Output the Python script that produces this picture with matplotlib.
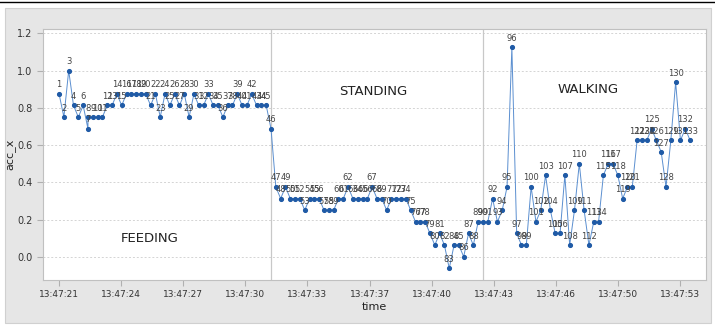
import matplotlib
matplotlib.use("Agg")
import matplotlib.pyplot as plt
from matplotlib.patches import Rectangle
import numpy as np

# acc_x readings, samples 1..133
acc_x = [
    0.875, 0.75, 1.0, 0.8125, 0.75, 0.8125, 0.6875, 0.75, 0.75, 0.75,
    0.75, 0.8125, 0.8125, 0.875, 0.8125, 0.875, 0.875, 0.875, 0.875, 0.875,
    0.8125, 0.875, 0.75, 0.875, 0.8125, 0.875, 0.8125, 0.875, 0.75, 0.875,
    0.8125, 0.8125, 0.875, 0.8125, 0.8125, 0.75, 0.8125, 0.8125, 0.875, 0.8125,
    0.8125, 0.875, 0.8125, 0.8125, 0.8125, 0.6875, 0.375, 0.3125, 0.375, 0.3125,
    0.3125, 0.3125, 0.25, 0.3125, 0.3125, 0.3125, 0.25, 0.25, 0.25, 0.3125,
    0.3125, 0.375, 0.3125, 0.3125, 0.3125, 0.3125, 0.375, 0.3125, 0.3125, 0.25,
    0.3125, 0.3125, 0.3125, 0.3125, 0.25, 0.1875, 0.1875, 0.1875, 0.125, 0.0625,
    0.125, 0.0625, -0.0625, 0.0625, 0.0625, 0.0, 0.125, 0.0625, 0.1875, 0.1875,
    0.1875, 0.3125, 0.1875, 0.25, 0.375, 1.125, 0.125, 0.0625, 0.0625, 0.375,
    0.1875, 0.25, 0.4375, 0.25, 0.125, 0.125, 0.4375, 0.0625, 0.25, 0.5,
    0.25, 0.0625, 0.1875, 0.1875, 0.4375, 0.5, 0.5, 0.4375, 0.3125, 0.375,
    0.375, 0.625, 0.625, 0.625, 0.6875, 0.625, 0.5625, 0.375, 0.625, 0.9375,
    0.625, 0.6875, 0.625,
]
sample_no = list(range(1, len(acc_x) + 1))

time_labels = ["13:47:21", "13:47:24", "13:47:27", "13:47:30", "13:47:33",
               "13:47:37", "13:47:40", "13:47:43", "13:47:46", "13:47:50",
               "13:47:53"]

phase_names = ["FEEDING", "STANDING", "WALKING"]
phase_start = [46, 90]  # samples where a new activity begins

# x position per sample; samples 8 and 9 carry the same timestamp
x = np.arange(len(acc_x), dtype=float)
x[7:] -= 1

narrow = ["Liberation Sans Narrow", "DejaVu Sans"]

fig = plt.figure(figsize=(7.15, 3.26), dpi=100)
fig.patch.set_facecolor("white")
fig.patches.append(Rectangle((5 / 715, 3 / 326), 706 / 715, 315 / 326,
                             transform=fig.transFigure, facecolor="#e6e6e6",
                             edgecolor="#d0d0d0", lw=0.8, zorder=-10))
fig.lines.append(plt.Line2D([0, 1], [1 - 2 / 326, 1 - 2 / 326],
                            transform=fig.transFigure, color="black", lw=1,
                            zorder=-5))

ax = fig.add_axes([0.0597, 0.141, 0.9277, 0.770])
ax.set_zorder(5)
ax.set_facecolor("white")

ax.plot(x, acc_x, color="#5b8fd0", lw=0.7, zorder=2)
ax.plot(x, acc_x, "o", color="#1f5aa6", ms=2.7, zorder=3)

for xi, yi, n in zip(x, acc_x, sample_no):
    ax.annotate(str(n), (xi, yi), xytext=(0, 3.2), textcoords="offset points",
                ha="center", va="bottom", fontsize=6, color="#444444",
                family=narrow)

for s in phase_start:
    ax.axvline(x[s - 1], color="#c8c8c8", lw=0.9, zorder=1)

ax.text(18.9, 0.1, phase_names[0], ha="center", va="center", fontsize=9.5,
        family=narrow, color="#222222")
ax.text(65.2, 0.885, phase_names[1], ha="center", va="center", fontsize=9.5,
        family=narrow, color="#222222")
ax.text(109.8, 0.896, phase_names[2], ha="center", va="center", fontsize=9.5,
        family=narrow, color="#222222")

ax.set_xlim(-3.4, 134.3)
ax.set_ylim(-0.125, 1.223)
ax.set_yticks([0.0, 0.2, 0.4, 0.6, 0.8, 1.0, 1.2])
ax.set_yticklabels(["0.0", "0.2", "0.4", "0.6", "0.8", "1.0", "1.2"],
                   fontsize=7, family=narrow, color="#333333")
ax.set_xticks(np.linspace(0, 128.9, len(time_labels)))
ax.set_xticklabels(time_labels, fontsize=6.5, family=narrow, color="#333333")
ax.tick_params(axis="both", length=4, color="#b0b0b0", width=0.8)

ax.grid(axis="y", color="#d4d4d4", linestyle=(0, (2, 2)), lw=0.7)
ax.set_axisbelow(True)
for sp in ax.spines.values():
    sp.set_color("#c0c0c0")
    sp.set_linewidth(0.8)

ax.set_xlabel("time", fontsize=8, family=narrow, color="#222222", labelpad=2)
ax.set_ylabel("acc_x", fontsize=8, family=narrow, color="#222222", labelpad=1)

fig.savefig("out.png", dpi=100, facecolor=fig.get_facecolor())
